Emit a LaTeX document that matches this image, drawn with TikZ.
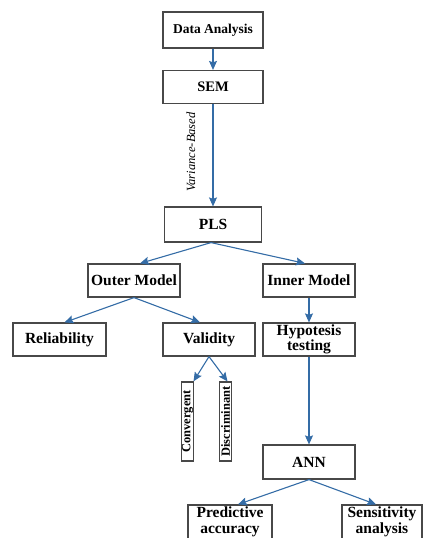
\documentclass[tikz,border=0pt]{standalone}
\usepackage{fontspec}
\setmainfont{Liberation Serif}
\usepackage{tikz}
\usetikzlibrary{arrows.meta}

\definecolor{arrowblue}{RGB}{52,108,166}
\definecolor{boxgray}{RGB}{72,72,72}

\begin{document}
\begin{tikzpicture}[x=1pt,y=-1pt,->,>={Stealth[length=9pt,width=8pt,inset=1.5pt]},line width=1.1pt]

        \tikzset{box/.style={draw=boxgray, line width=1.2pt, fill=white, align=center,
                  font=\fontsize{15.5}{15.5}\selectfont\bfseries,
                  minimum width=92pt, minimum height=33pt, inner sep=1pt},
                 slim/.style={box, rotate=90, font=\fontsize{12.5}{13}\selectfont\bfseries,
                  minimum width=79pt, minimum height=12pt, inner sep=0.3pt}}

        \useasboundingbox (0,0) rectangle (423,538);

        \node[box, minimum width=100pt, minimum height=36pt,
              font=\fontsize{13.5}{15}\selectfont\bfseries] (data) at (213,30)    {Data Analysis};
        \node[box, minimum width=100pt, font=\fontsize{14.5}{15}\selectfont\bfseries]
                                                        (sem)  at (213,87)    {SEM};
        \node[box, minimum width=97pt, minimum height=35pt]
                                                        (pls)  at (213,224.5) {PLS};

        \node[box]                                      (outer) at (134,280.5) {Outer Model};
        \node[box]                                      (inner) at (309,280.5) {Inner Model};

        \node[box, minimum width=93pt]                  (rel)  at (59.5,339.5) {Reliability};
        \node[box]                                      (val)  at (209,339.5)  {Validity};
        \node[box]                                      (hyp)  at (309,339.5)  {Hypotesis\\testing};

        \node[slim]                                     (conv) at (187.5,421.5) {Convergent};
        \node[slim]                                     (disc) at (225.5,421.5) {Discriminant};

        \node[box, minimum height=34pt]                 (ann)  at (309,462)    {ANN};
        \node[box, minimum width=84pt, minimum height=34pt] (pred) at (230,522) {Predictive\\accuracy};
        \node[box, minimum width=80pt, minimum height=34pt] (sens) at (382,522) {Sensitivity\\analysis};

        % variance-based label beside the SEM -> PLS arrow
        \node[rotate=90, font=\fontsize{12.5}{14}\selectfont\itshape, inner sep=0pt]
                                                        (vb)   at (191,152)    {Variance-Based};

        \path[arrowblue]
        (data) edge (sem)
        (sem)  edge (pls)

        ([xshift=-2pt]pls.south) edge ([xshift=6pt]outer.north)
        ([xshift=-2pt]pls.south) edge ([xshift=-4pt]inner.north)

        (outer.south) edge ([xshift=5pt]rel.north)
        (outer.south) edge ([xshift=-9pt]val.north)
        (inner)       edge (hyp)

        (val.south)   edge ([xshift=6pt]conv.east)
        (val.south)   edge ([xshift=2pt]disc.east)

        (hyp)         edge (ann)
        (ann.south)   edge ([xshift=8pt]pred.north)
        (ann.south)   edge ([xshift=-6pt]sens.north)
        ;
\end{tikzpicture}
\end{document}
